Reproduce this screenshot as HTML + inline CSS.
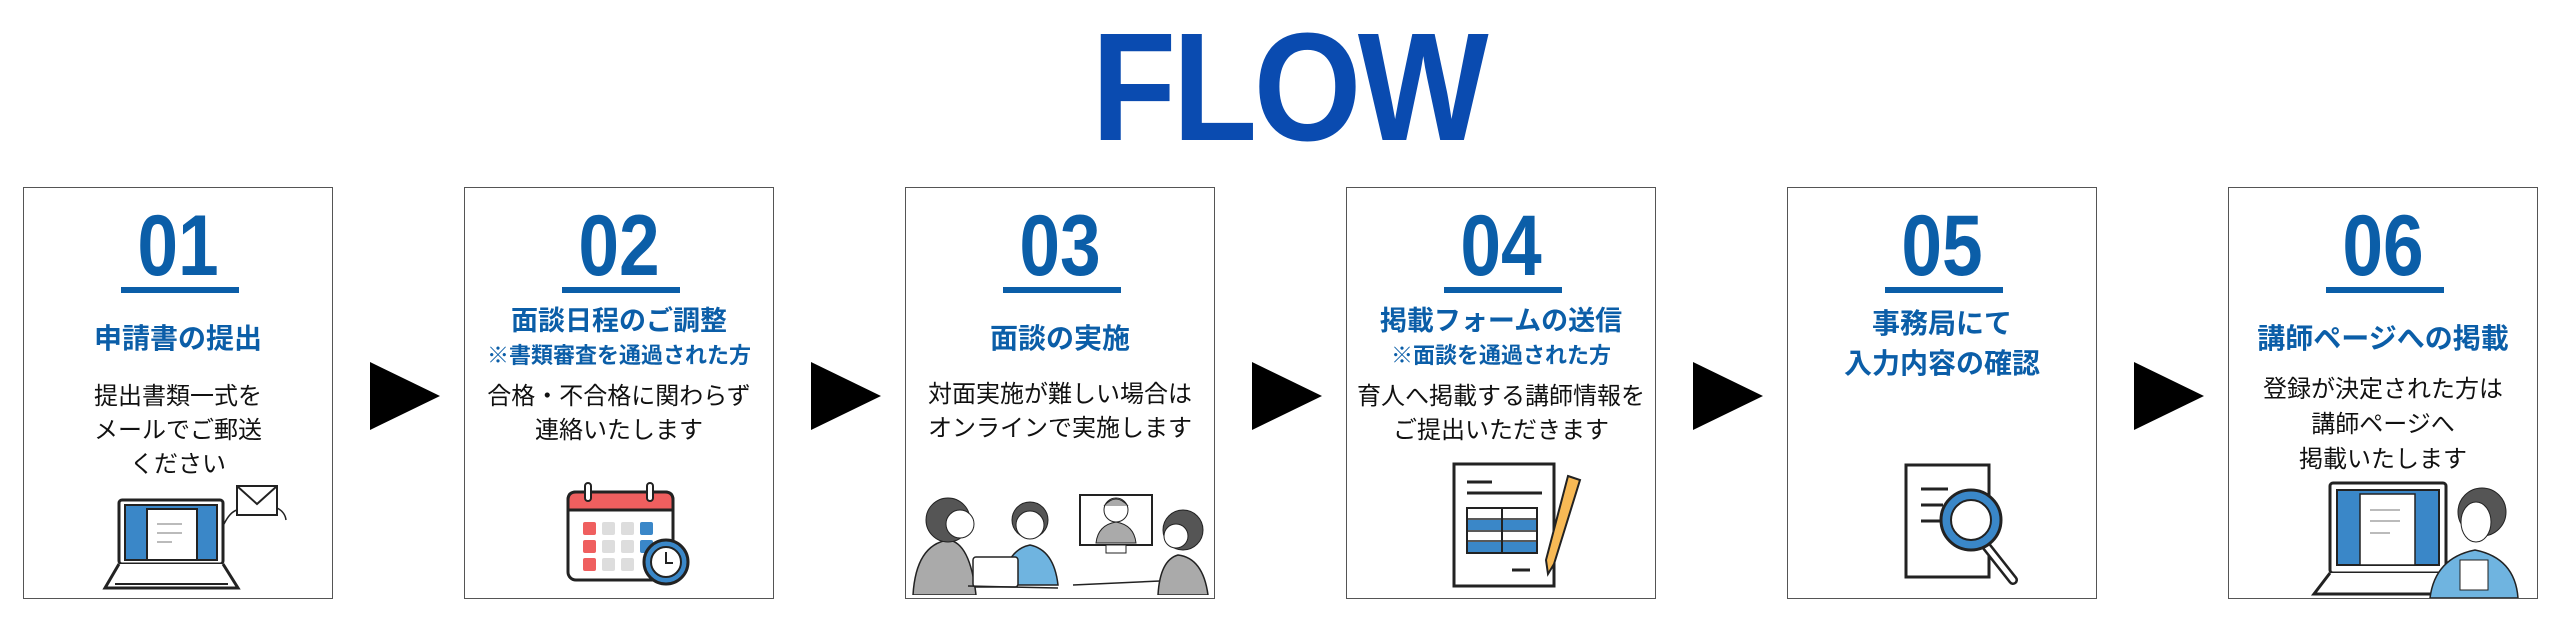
<!DOCTYPE html>
<html><head><meta charset="utf-8"><style>
body{margin:0;width:2560px;height:623px;background:#fff;position:relative;overflow:hidden;font-family:"Liberation Sans","Noto Sans CJK JP",sans-serif}
.flow{position:absolute;left:1070px;top:10px;width:430px;text-align:center;font-weight:bold;font-size:154px;line-height:154px;color:#0a4bb0;transform:scaleX(0.9);letter-spacing:-4px}
.box{position:absolute;top:187px;width:310px;height:412px;border:1.5px solid #555;box-sizing:border-box}
.num{position:absolute;left:0;width:100%;top:8px;text-align:center;font-weight:bold;font-size:86px;line-height:100px;color:#0b5ea8;transform:scaleX(0.85)}
.ul{position:absolute;left:97px;width:118px;top:99px;height:6px;background:#0b5ea8}
.t{position:absolute;left:0;width:100%;text-align:center;font-weight:bold;color:#0b5ea8;white-space:nowrap}
.b{position:absolute;left:0;width:100%;text-align:center;font-size:24px;line-height:34px;color:#111;white-space:nowrap}
.arr{position:absolute;top:362px;width:0;height:0;border-top:34px solid transparent;border-bottom:34px solid transparent;border-left:70px solid #000}
svg{position:absolute}
</style></head><body>
<div class="flow">FLOW</div>

<div class="box" style="left:23px">
<div class="num">01</div><div class="ul"></div>
<div class="t" style="top:134px;font-size:28px;line-height:34px">申請書の提出</div>
<div class="b" style="top:192px">提出書類一式を<br>メールでご郵送<br>ください</div>
</div>
<div class="box" style="left:464px">
<div class="num">02</div><div class="ul"></div>
<div class="t" style="top:116px;font-size:27px;line-height:34px">面談日程のご調整</div>
<div class="t" style="top:153px;font-size:22px;line-height:30px">※書類審査を通過された方</div>
<div class="b" style="top:192px">合格・不合格に関わらず<br>連絡いたします</div>
</div>
<div class="box" style="left:905px">
<div class="num">03</div><div class="ul"></div>
<div class="t" style="top:134px;font-size:28px;line-height:34px">面談の実施</div>
<div class="b" style="top:190px">対面実施が難しい場合は<br>オンラインで実施します</div>
</div>
<div class="box" style="left:1346px">
<div class="num">04</div><div class="ul"></div>
<div class="t" style="top:116px;font-size:27px;line-height:34px">掲載フォームの送信</div>
<div class="t" style="top:153px;font-size:22px;line-height:30px">※面談を通過された方</div>
<div class="b" style="top:192px">育人へ掲載する講師情報を<br>ご提出いただきます</div>
</div>
<div class="box" style="left:1787px">
<div class="num">05</div><div class="ul"></div>
<div class="t" style="top:116px;font-size:28px;line-height:40px">事務局にて<br>入力内容の確認</div>
</div>
<div class="box" style="left:2228px">
<div class="num">06</div><div class="ul"></div>
<div class="t" style="top:134px;font-size:28px;line-height:34px">講師ページへの掲載</div>
<div class="b" style="top:184px;line-height:35px">登録が決定された方は<br>講師ページへ<br>掲載いたします</div>
</div>

<div class="arr" style="left:370px"></div>
<div class="arr" style="left:811px"></div>
<div class="arr" style="left:1252px"></div>
<div class="arr" style="left:1693px"></div>
<div class="arr" style="left:2134px"></div>

<!-- 01 laptop -->
<svg style="left:100px;top:484px" width="190" height="112" viewBox="0 0 190 112">
<rect x="19" y="16" width="104" height="64" rx="3" fill="#fff" stroke="#222" stroke-width="3"/>
<rect x="25" y="21" width="92" height="55" fill="#3a87c8" stroke="#222" stroke-width="2"/>
<rect x="47" y="25" width="50" height="51" fill="#fff" stroke="#222" stroke-width="2"/>
<line x1="57" y1="40" x2="82" y2="40" stroke="#bbb" stroke-width="2"/><line x1="57" y1="49" x2="82" y2="49" stroke="#bbb" stroke-width="2"/><line x1="57" y1="58" x2="72" y2="58" stroke="#bbb" stroke-width="2"/>
<path d="M19 80 L5 104 L138 104 L123 80" fill="#fff" stroke="#222" stroke-width="3"/>
<line x1="15" y1="100" x2="128" y2="100" stroke="#222" stroke-width="2"/>
<rect x="137" y="2" width="40" height="29" fill="#fff" stroke="#222" stroke-width="2"/>
<path d="M137 2 L157 20 L177 2" fill="none" stroke="#222" stroke-width="2"/>
<path d="M124 40 Q130 28 137 26 M177 24 Q185 28 186 36" fill="none" stroke="#222" stroke-width="1.5"/>
</svg>

<!-- 02 calendar -->
<svg style="left:565px;top:480px" width="130" height="108" viewBox="0 0 130 108">
<rect x="3" y="12" width="105" height="88" rx="8" fill="#fff" stroke="#222" stroke-width="3"/>
<path d="M3 30 V20 Q3 12 11 12 H100 Q108 12 108 20 V30 Z" fill="#ef5f5f" stroke="#222" stroke-width="3"/>
<rect x="20" y="3" width="6" height="18" rx="3" fill="#fff" stroke="#222" stroke-width="2"/>
<rect x="82" y="3" width="6" height="18" rx="3" fill="#fff" stroke="#222" stroke-width="2"/>
<g><rect x="18" y="42" width="13" height="13" rx="2" fill="#ef5f5f"/><rect x="37" y="42" width="13" height="13" rx="2" fill="#ddd"/><rect x="56" y="42" width="13" height="13" rx="2" fill="#ddd"/><rect x="75" y="42" width="13" height="13" rx="2" fill="#3a87c8"/>
<rect x="18" y="60" width="13" height="13" rx="2" fill="#ef5f5f"/><rect x="37" y="60" width="13" height="13" rx="2" fill="#ddd"/><rect x="56" y="60" width="13" height="13" rx="2" fill="#ddd"/><rect x="75" y="60" width="13" height="13" rx="2" fill="#3a87c8"/>
<rect x="18" y="78" width="13" height="13" rx="2" fill="#ef5f5f"/><rect x="37" y="78" width="13" height="13" rx="2" fill="#ddd"/><rect x="56" y="78" width="13" height="13" rx="2" fill="#ddd"/></g>
<circle cx="101" cy="82" r="22" fill="#3a87c8" stroke="#222" stroke-width="3"/>
<circle cx="101" cy="82" r="15" fill="#fff" stroke="#222" stroke-width="2"/>
<path d="M101 72 V83 H108" fill="none" stroke="#222" stroke-width="2"/>
</svg>

<!-- 03 people -->
<svg style="left:908px;top:470px" width="305" height="125" viewBox="0 0 305 125">
<path d="M5 125 Q8 75 40 70 Q62 72 68 125 Z" fill="#aaa" stroke="#222" stroke-width="1.5"/>
<circle cx="40" cy="50" r="22" fill="#555" stroke="#222"/>
<circle cx="52" cy="54" r="14" fill="#fff" stroke="#222"/>
<path d="M95 115 Q98 80 122 75 Q146 80 150 115 Z" fill="#6fb4e0" stroke="#222" stroke-width="1.5"/>
<circle cx="122" cy="50" r="18" fill="#555" stroke="#222"/>
<circle cx="122" cy="55" r="14" fill="#fff" stroke="#222"/>
<rect x="65" y="87" width="45" height="30" rx="3" fill="#fff" stroke="#222" stroke-width="1.5"/>
<line x1="60" y1="116" x2="150" y2="118" stroke="#222" stroke-width="1.5"/>
<rect x="172" y="25" width="72" height="50" fill="#fff" stroke="#222" stroke-width="2"/>
<path d="M188 73 Q190 55 208 52 Q226 55 228 73 Z" fill="#aaa" stroke="#222"/>
<circle cx="208" cy="40" r="12" fill="#fff" stroke="#222"/>
<path d="M196 36 Q208 22 220 36" fill="#aaa" stroke="#222"/>
<rect x="198" y="75" width="20" height="8" fill="#fff" stroke="#222"/>
<line x1="165" y1="115" x2="252" y2="111" stroke="#222" stroke-width="1.5"/>
<path d="M250 125 Q252 90 270 85 Q295 88 300 125 Z" fill="#aaa" stroke="#222" stroke-width="1.5"/>
<circle cx="275" cy="60" r="20" fill="#555" stroke="#222"/>
<circle cx="268" cy="66" r="12" fill="#fff" stroke="#222"/>
</svg>

<!-- 04 document -->
<svg style="left:1452px;top:462px" width="140" height="128" viewBox="0 0 140 128">
<rect x="2" y="2" width="100" height="122" fill="#fff" stroke="#222" stroke-width="3"/>
<line x1="15" y1="20" x2="40" y2="20" stroke="#222" stroke-width="3"/><line x1="15" y1="31" x2="90" y2="31" stroke="#222" stroke-width="3"/>
<rect x="15" y="46" width="70" height="45" fill="#fff" stroke="#222" stroke-width="2"/>
<rect x="16" y="58" width="68" height="10" fill="#3a87c8"/><rect x="16" y="80" width="68" height="10" fill="#3a87c8"/>
<line x1="50" y1="46" x2="50" y2="91" stroke="#222" stroke-width="2"/>
<line x1="15" y1="57" x2="85" y2="57" stroke="#222" stroke-width="1.5"/><line x1="15" y1="69" x2="85" y2="69" stroke="#222" stroke-width="1.5"/><line x1="15" y1="79" x2="85" y2="79" stroke="#222" stroke-width="1.5"/>
<line x1="60" y1="108" x2="78" y2="108" stroke="#222" stroke-width="3"/>
<path d="M116 14 L128 18 L102 102 L96 112 L94 98 Z" fill="#f7b955" stroke="#222" stroke-width="2"/>
</svg>

<!-- 05 magnifier -->
<svg style="left:1903px;top:462px" width="140" height="125" viewBox="0 0 140 125">
<rect x="3" y="3" width="83" height="112" fill="#fff" stroke="#222" stroke-width="3"/>
<line x1="18" y1="27" x2="45" y2="27" stroke="#222" stroke-width="3"/><line x1="18" y1="43" x2="40" y2="43" stroke="#222" stroke-width="3"/><line x1="18" y1="59" x2="40" y2="59" stroke="#222" stroke-width="3"/>
<line x1="80" y1="80" x2="110" y2="118" stroke="#222" stroke-width="10" stroke-linecap="round"/>
<line x1="80" y1="80" x2="110" y2="118" stroke="#fff" stroke-width="5" stroke-linecap="round"/>
<circle cx="68" cy="58" r="30" fill="#3a87c8" stroke="#222" stroke-width="3"/>
<circle cx="68" cy="58" r="20" fill="#fff" stroke="#222" stroke-width="2"/>
</svg>

<!-- 06 laptop + woman -->
<svg style="left:2310px;top:480px" width="220" height="118" viewBox="0 0 220 118">
<rect x="20" y="3" width="116" height="90" rx="3" fill="#fff" stroke="#222" stroke-width="3"/>
<rect x="27" y="10" width="102" height="75" fill="#3a87c8" stroke="#222" stroke-width="2"/>
<rect x="50" y="14" width="55" height="71" fill="#fff" stroke="#222" stroke-width="1.5"/>
<line x1="60" y1="30" x2="90" y2="30" stroke="#bbb" stroke-width="2"/><line x1="60" y1="41" x2="90" y2="41" stroke="#bbb" stroke-width="2"/><line x1="60" y1="53" x2="80" y2="53" stroke="#bbb" stroke-width="2"/>
<path d="M20 93 L4 114 L150 114 L136 93" fill="#fff" stroke="#222" stroke-width="3"/>
<path d="M120 118 Q125 78 165 70 Q205 78 208 118 Z" fill="#6fb4e0" stroke="#222" stroke-width="1.5"/>
<circle cx="172" cy="32" r="24" fill="#555" stroke="#222"/>
<ellipse cx="166" cy="42" rx="15" ry="20" fill="#fff" stroke="#222"/>
<rect x="150" y="80" width="28" height="30" fill="#fff" stroke="#222"/>
</svg>
</body></html>
